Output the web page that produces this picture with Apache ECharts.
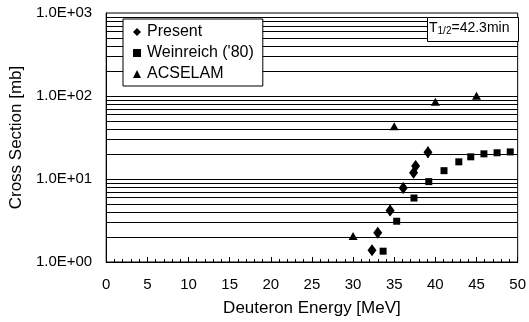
<!DOCTYPE html>
<html>
<head>
<meta charset="utf-8">
<script src="https://cdn.jsdelivr.net/npm/echarts@6/dist/echarts.min.js"></script>
<style>
html,body{margin:0;padding:0;background:#fff;}
#c{width:529px;height:322px;}
</style>
</head>
<body>
<div id="c"></div>
<script>
// Present (diamonds) with error bars
var presentX = [32.3, 33.0, 34.5, 36.1, 37.35, 37.6, 39.1];
var presentY = [1.39, 2.25, 4.18, 7.8, 11.9, 14.3, 21.0];
var presentLow = [1.22, 1.96, 3.6, 6.75, 10.4, 12.5, 18.0];
var presentHigh = [1.58, 2.58, 4.85, 9.0, 13.6, 16.4, 24.5];
// Weinreich ('80) (squares)
var weinX = [33.65, 35.3, 37.4, 39.2, 41.05, 42.85, 44.3, 45.9, 47.5, 49.1];
var weinY = [1.35, 3.1, 5.9, 9.3, 12.6, 16.1, 18.5, 20.1, 20.7, 21.2];
// ACSELAM (triangles)
var acsX = [30.0, 35.0, 40.0, 45.0];
var acsY = [2.05, 43.2, 85, 101];
// axis
var xTicks = [0, 5, 10, 15, 20, 25, 30, 35, 40, 45, 50];
var yDecades = [1, 10, 100, 1000];
var legendNames = ['Present', "Weinreich ('80)", 'ACSELAM'];

function zip(a, b) { return a.map(function (v, i) { return [v, b[i]]; }); }

// horizontal grid lines at 1..9 x 10^k
var gridVals = [];
for (var d = 0; d < yDecades.length - 1; d++) {
  for (var m = 1; m <= 9; m++) {
    if (m === 1 && d === 0) continue;
    gridVals.push(m * yDecades[d]);
  }
}

function fmtE(v) {
  var e = Math.round(Math.log10(v));
  var mant = v / Math.pow(10, e);
  return mant.toFixed(1) + 'E+' + (e < 10 ? '0' + e : e);
}

var font = 'Liberation Sans, Arial, sans-serif';
var chart = echarts.init(document.getElementById('c'));
chart.setOption({
  animation: false,
  backgroundColor: '#fff',
  textStyle: { fontFamily: font, color: '#000' },
  grid: { left: 105, right: 9, top: 13, bottom: 59, show: true, borderColor: '#000', borderWidth: 1, backgroundColor: 'transparent' },
  legend: {
    data: [
      { name: legendNames[0], icon: 'diamond' },
      { name: legendNames[1], icon: 'rect' },
      { name: legendNames[2], icon: 'triangle' }
    ],
    orient: 'vertical',
    left: 123, top: 19,
    padding: [5, 9, 4, 10],
    itemGap: 5,
    itemWidth: 8, itemHeight: 8,
    z: 20,
    backgroundColor: '#fff',
    borderColor: '#000', borderWidth: 1, borderRadius: 0,
    textStyle: { fontFamily: font, fontSize: 16, color: '#000', padding: [0, 0, 0, 1] },
    selectedMode: false
  },
  xAxis: {
    type: 'value', min: 0, max: 50, interval: 5,
    name: 'Deuteron Energy [MeV]', nameLocation: 'middle', nameGap: 38,
    nameTextStyle: { fontFamily: font, fontSize: 17, color: '#000' },
    axisLine: { lineStyle: { color: '#000', width: 1 } },
    axisTick: { show: true, inside: true, length: 5, lineStyle: { color: '#000' } },
    minorTick: { show: true, splitNumber: 5, length: 3, lineStyle: { color: '#000' } },
    axisLabel: { fontFamily: font, fontSize: 15, color: '#000', margin: 15,
      formatter: function (v) { return xTicks.indexOf(v) >= 0 ? String(v) : ''; } },
    splitLine: { show: false }
  },
  yAxis: {
    type: 'log', logBase: 10, min: 1, max: 1000,
    name: 'Cross Section [mb]', nameLocation: 'middle', nameGap: 73,
    nameTextStyle: { fontFamily: font, fontSize: 17, color: '#000' },
    axisLine: { lineStyle: { color: '#000', width: 1 } },
    axisTick: { show: false },
    axisLabel: { fontFamily: font, fontSize: 15, color: '#000', margin: 14, formatter: fmtE },
    splitLine: { show: false }
  },
  series: [
    {
      name: 'grid', type: 'line', data: [], silent: true, z: 1,
      markLine: {
        silent: true, symbol: 'none', label: { show: false }, z: 1,
        lineStyle: { color: '#000', width: 1, type: 'solid' },
        animation: false,
        data: gridVals.map(function (v) { return { yAxis: v }; })
      }
    },
    {
      name: 'errbars', type: 'custom', silent: true, z: 3,
      data: presentX.map(function (x, i) { return [x, presentLow[i], presentHigh[i]]; }),
      renderItem: function (params, api) {
        var lo = api.coord([api.value(0), api.value(1)]);
        var hi = api.coord([api.value(0), api.value(2)]);
        return { type: 'line', shape: { x1: lo[0], y1: lo[1], x2: hi[0], y2: hi[1] }, style: { stroke: '#000', lineWidth: 1.5 } };
      }
    },
    {
      name: legendNames[0], type: 'scatter', symbol: 'diamond', symbolSize: [9, 12], z: 4,
      itemStyle: { color: '#000', opacity: 1 }, data: zip(presentX, presentY)
    },
    {
      name: legendNames[1], type: 'scatter', symbol: 'rect', symbolSize: 7, z: 4,
      itemStyle: { color: '#000', opacity: 1 }, data: zip(weinX, weinY)
    },
    {
      name: legendNames[2], type: 'scatter', symbol: 'triangle', symbolSize: [9, 8], z: 4,
      itemStyle: { color: '#000', opacity: 1 }, data: zip(acsX, acsY)
    }
  ],
  graphic: [
    { type: 'rect', left: 427, top: 17, z: 100, shape: { width: 91, height: 24 }, style: { fill: '#fff', stroke: '#000', lineWidth: 1 } },
    { type: 'text', left: 429, top: 21, z: 101, style: {
        text: 'T{sub|1/2}=42.3min', fill: '#000', font: '14px ' + font,
        rich: { sub: { fontSize: 10, fontFamily: font, padding: [7, 0, 0, 0], fill: '#000' } }
    } }
  ]
});
</script>
</body>
</html>
